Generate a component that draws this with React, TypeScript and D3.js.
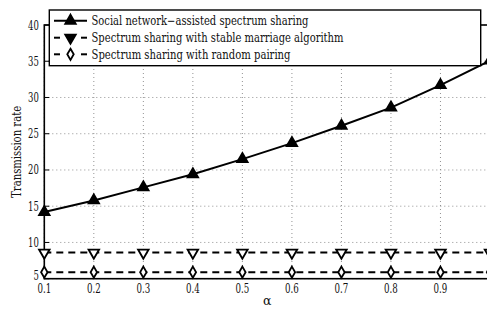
import { useEffect, useRef } from 'react';
import * as d3 from 'd3';

const alphas = [0.1, 0.2, 0.3, 0.4, 0.5, 0.6, 0.7, 0.8, 0.9, 1.0];
const socialRate = [14.2, 15.8, 17.6, 19.4, 21.5, 23.7, 26.1, 28.6, 31.7, 35.1];
const stableRate = [8.6, 8.6, 8.6, 8.6, 8.6, 8.6, 8.6, 8.6, 8.6, 8.6];
const randomRate = [5.9, 5.9, 5.9, 5.9, 5.9, 5.9, 5.9, 5.9, 5.9, 5.9];
const xTicks = [0.1, 0.2, 0.3, 0.4, 0.5, 0.6, 0.7, 0.8, 0.9, 1];
const xTickLabels = ['0.1', '0.2', '0.3', '0.4', '0.5', '0.6', '0.7', '0.8', '0.9', ''];
const yTicks = [5, 10, 15, 20, 25, 30, 35, 40];
const legendLabels = [
	'Social network\u2212assisted spectrum sharing',
	'Spectrum sharing with stable marriage algorithm',
	'Spectrum sharing with random pairing',
];
// widths the Times-like labels take in the original
const legendWidths = [217, 252, 199];

const W = 487;
const H = 310;
const FONT = 'DejaVu Serif, serif';

// narrow a DejaVu Serif string to roughly Times proportions
const numWidth = (s: string) => s.split('').reduce((a, c) => a + (c === '.' ? 3 : 5.4), 0);

const App = () => {
	const svgRef = useRef<SVGSVGElement>(null);

	useEffect(() => {
		if (!svgRef.current) return;
		const svg = d3.select(svgRef.current);
		svg.selectAll('*').remove();

		const left = 44.3;
		const right = 490;
		const top = 25;
		const bottom = 278.7;

		const x = d3.scaleLinear().domain([0.1, 1]).range([left, right]);
		const y = d3.scaleLinear().domain([5, 40]).range([bottom, top]);

		// grid
		const grid = svg.append('g');
		xTicks.forEach((t) => {
			grid.append('line')
				.attr('x1', x(t)).attr('x2', x(t))
				.attr('y1', top).attr('y2', bottom)
				.attr('stroke', '#777').attr('stroke-width', 0.8)
				.attr('stroke-dasharray', '1,3');
		});
		yTicks.forEach((t) => {
			grid.append('line')
				.attr('x1', left).attr('x2', right)
				.attr('y1', y(t)).attr('y2', y(t))
				.attr('stroke', '#777').attr('stroke-width', 0.8)
				.attr('stroke-dasharray', '1,3');
		});

		// box
		svg.append('rect')
			.attr('x', left).attr('y', top)
			.attr('width', right - left).attr('height', bottom - top)
			.attr('fill', 'none').attr('stroke', '#000').attr('stroke-width', 1.6);

		// ticks and labels
		const axes = svg.append('g').style('font-family', FONT).style('font-size', '12.5px').attr('fill', '#111');
		yTicks.forEach((t) => {
			axes.append('line')
				.attr('x1', left).attr('x2', left + 5)
				.attr('y1', y(t)).attr('y2', y(t))
				.attr('stroke', '#000').attr('stroke-width', 1);
			axes.append('text')
				.attr('x', left - 5.5).attr('y', y(t) - (t === 5 ? 3.5 : 0))
				.attr('dy', '0.36em')
				.attr('text-anchor', 'end')
				.attr('textLength', numWidth(String(t)))
				.attr('lengthAdjust', 'spacingAndGlyphs')
				.text(t);
		});
		xTicks.forEach((t, i) => {
			axes.append('line')
				.attr('x1', x(t)).attr('x2', x(t))
				.attr('y1', bottom).attr('y2', bottom - 5)
				.attr('stroke', '#000').attr('stroke-width', 1);
			if (xTickLabels[i]) {
				axes.append('text')
					.attr('x', x(t)).attr('y', bottom + 13.8)
					.attr('text-anchor', 'middle')
					.attr('textLength', numWidth(xTickLabels[i]))
					.attr('lengthAdjust', 'spacingAndGlyphs')
					.text(xTickLabels[i]);
			}
		});

		axes.append('text')
			.attr('x', x(0.55)).attr('y', 305)
			.attr('text-anchor', 'middle')
			.text('\u03b1');
		axes.append('text')
			.attr('transform', `translate(20.7, ${(top + bottom) / 2}) rotate(-90)`)
			.attr('text-anchor', 'middle')
			.style('font-size', '12px')
			.attr('textLength', 92)
			.attr('lengthAdjust', 'spacingAndGlyphs')
			.text('Transmission rate');

		const line = d3.line<number>()
			.x((_, i) => x(alphas[i]))
			.y((d) => y(d));

		const triUp = d3.symbol().type(d3.symbolTriangle).size(48);
		const triDown = d3.symbol().type(d3.symbolTriangle).size(48);
		const diamond = d3.symbol().type(d3.symbolDiamond).size(36);

		const series = [
			{ data: socialRate, dash: null, sym: triUp, rot: 0, fill: '#000' },
			{ data: stableRate, dash: '7,5', sym: triDown, rot: 180, fill: '#fff' },
			{ data: randomRate, dash: '7,5', sym: diamond, rot: 0, fill: '#fff' },
		];

		const plot = svg.append('g');
		series.forEach((s) => {
			plot.append('path')
				.attr('d', line(s.data) ?? '')
				.attr('fill', 'none')
				.attr('stroke', '#000')
				.attr('stroke-width', 2)
				.attr('stroke-dasharray', s.dash ?? null);
			s.data.forEach((v, i) => {
				plot.append('path')
					.attr('d', s.sym() ?? '')
					.attr('transform', `translate(${x(alphas[i])},${y(v)}) rotate(${s.rot})`)
					.attr('fill', s.fill)
					.attr('stroke', '#000')
					.attr('stroke-width', 1.8);
			});
		});

		// legend
		const lg = svg.append('g');
		lg.append('rect')
			.attr('x', 49.3).attr('y', 10)
			.attr('width', 431.4).attr('height', 55.7)
			.attr('fill', '#fff').attr('stroke', '#000').attr('stroke-width', 1.4);
		const rowY = [20.7, 37.7, 54.3];
		series.forEach((s, i) => {
			const ry = rowY[i];
			if (s.dash) {
				[[54, 60], [81, 87]].forEach(([a, b]) => {
					lg.append('line')
						.attr('x1', a).attr('x2', b).attr('y1', ry).attr('y2', ry)
						.attr('stroke', '#000').attr('stroke-width', 2);
				});
			} else {
				lg.append('line')
					.attr('x1', 54).attr('x2', 87).attr('y1', ry).attr('y2', ry)
					.attr('stroke', '#000').attr('stroke-width', 2);
			}
			lg.append('path')
				.attr('d', s.sym() ?? '')
				.attr('transform', `translate(70.5,${ry}) rotate(${s.rot})`)
				.attr('fill', i === 2 ? '#fff' : '#000')
				.attr('stroke', '#000')
				.attr('stroke-width', 1.8);
			lg.append('text')
				.attr('x', 91.5).attr('y', ry)
				.attr('dy', '0.36em')
				.style('font-family', FONT)
				.style('font-size', '12.5px')
				.attr('fill', '#111')
				.attr('textLength', legendWidths[i])
				.attr('lengthAdjust', 'spacingAndGlyphs')
				.text(legendLabels[i]);
		});
	}, []);

	return (
		<div style={{ position: 'absolute', left: 0, top: 0, width: W, height: H, overflow: 'hidden', background: '#fff' }}>
			<svg ref={svgRef} width={W} height={H} style={{ display: 'block' }}></svg>
		</div>
	);
};

export default App;
